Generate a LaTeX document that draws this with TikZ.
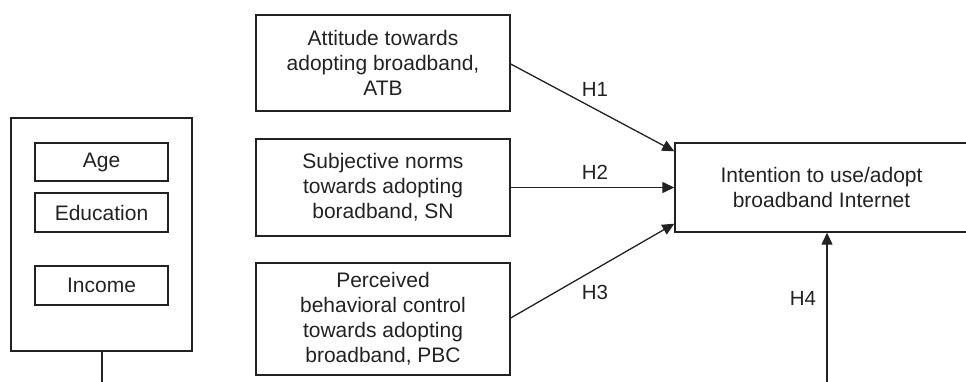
\documentclass[tikz,border=0pt]{standalone}
\usepackage{fontspec}
\setmainfont{Liberation Sans}
\usetikzlibrary{arrows.meta}
\definecolor{ink}{HTML}{222222}
\tikzset{
  box/.style={draw=ink, line width=1.4pt, rectangle, inner sep=0pt, align=center,
    font=\fontsize{21}{25}\selectfont, text=ink},
  conn/.style={draw=ink, line width=1.3pt, -{Triangle[length=12pt,width=11pt]}},
  plain/.style={draw=ink, line width=1.3pt},
  hlab/.style={font=\fontsize{20.5}{22}\selectfont, text=ink, inner sep=0pt}
}
\begin{document}
\begin{tikzpicture}[x=1pt,y=-1pt]
\useasboundingbox (0,0) rectangle (966,382);
% demographics
\node[box, minimum width=181pt, minimum height=233pt] (demo) at (101.5,234.5) {};
\node[box, minimum width=133pt, minimum height=38pt] (age) at (101.5,162) {Age};
\node[box, minimum width=133pt, minimum height=39pt] (edu) at (101.5,212.5) {Education};
\node[box, minimum width=133pt, minimum height=39pt] (inc) at (101.5,285.5) {Income};
\coordinate (demoend) at (102,382);
\draw[plain] (demo.south -| demoend) -- (demoend);
% constructs
\node[box, minimum width=254pt, minimum height=96pt] (atb) at (383,63) {Attitude towards\\adopting broadband,\\ATB};
\node[box, minimum width=254pt, minimum height=97pt] (sn) at (383,187.5) {Subjective norms\\towards adopting\\boradband, SN};
\node[box, minimum width=254pt, minimum height=112pt] (pbc) at (383,319) {Perceived\\behavioral control\\towards adopting\\broadband, PBC};
\node[box, minimum width=293pt, minimum height=89pt] (int) at (821.5,187.5) {Intention to use/adopt\\broadband Internet};
% connectors
\draw[conn] ([yshift=-1pt]atb.east) -- ([yshift=-9pt]int.north west);
\draw[conn] (sn.east) -- (int.west);
\draw[conn] ([yshift=1pt]pbc.east) -- ([yshift=9pt]int.south west);
\coordinate (h4start) at (827,382);
\draw[conn] (h4start) -- (h4start |- int.south);
% labels
\node[hlab] (h1) at (595,89) {H1};
\node[hlab] (h2) at (595,172) {H2};
\node[hlab] (h3) at (595,292) {H3};
\node[hlab] (h4) at (803,298) {H4};
\end{tikzpicture}
\end{document}
